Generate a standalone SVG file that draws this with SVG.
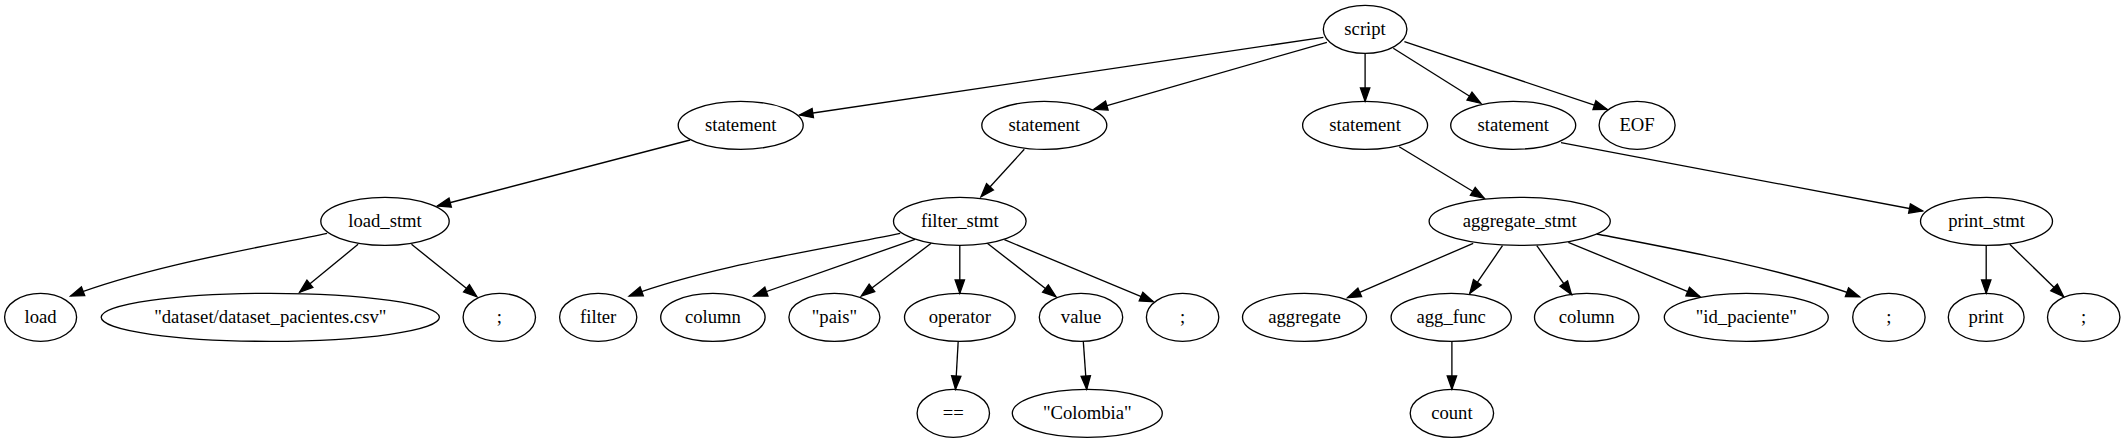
<svg xmlns="http://www.w3.org/2000/svg" width="2125" height="443" viewBox="0 0 2125 443">
<defs>
<style>
.n ellipse{fill:none;stroke:#000;stroke-width:1.33}
.n text{font-family:"Liberation Serif","DejaVu Serif",serif;font-size:18.67px;text-anchor:middle;fill:#000}
#edges path{fill:none;stroke:#000;stroke-width:1.33;marker-end:url(#arr)}
</style>
<marker id="arr" markerUnits="userSpaceOnUse" markerWidth="16" markerHeight="12" viewBox="-1 -6 16 12" refX="13.33" refY="0" orient="auto" overflow="visible">
<path d="M0,-4.67 L13.33,0 L0,4.67 Z" fill="#000" stroke="#000" stroke-width="1.33"/>
</marker>
</defs>
<rect width="2125" height="443" fill="#fff"/>
<g id="edges">
<path d="M1323.4,37.3 L799.6,115"/>
<path d="M1326.9,42.3 L1094,109.3"/>
<path d="M1365.1,53.3 L1365.1,101.33"/>
<path d="M1393.3,48.3 L1480.8,103.3"/>
<path d="M1404.4,41.7 L1607.1,109.3"/>
<path d="M690.1,140 L437.3,206"/>
<path d="M1024.3,149.3 L981,196.7"/>
<path d="M1399.2,146.7 L1484.2,198.3"/>
<path d="M1561,142.7 L1922.6,211"/>
<path d="M327.1,233.3 C252,249 150,266 70.6,296"/>
<path d="M358.1,244.3 L299.6,292.3"/>
<path d="M411.5,244.3 L476.9,296.7"/>
<path d="M900.2,233.3 C825,249 710,266 629.2,296"/>
<path d="M915,239.3 L753.8,296"/>
<path d="M931.2,243.3 L861.3,296"/>
<path d="M959.8,245.33 L959.8,293.33"/>
<path d="M987.3,243.3 L1056,296.7"/>
<path d="M1004.4,239.7 L1153.3,301.7"/>
<path d="M958.2,341.33 L955.5,389.33"/>
<path d="M1083.3,341.33 L1086.7,389.33"/>
<path d="M1473.2,243.3 L1347.5,297.7"/>
<path d="M1502.5,245.7 L1469.8,293.3"/>
<path d="M1536.8,245.7 L1571.5,294.5"/>
<path d="M1568.3,242.3 L1700,296.7"/>
<path d="M1596.7,234 C1670,248 1780,268 1859.5,296.7"/>
<path d="M1451.9,341.33 L1451.9,389.33"/>
<path d="M1986.2,245.33 L1986.2,293.33"/>
<path d="M2009.7,244.3 L2063.6,296.7"/>
</g>
<g id="script" class="n"><ellipse cx="1365.1" cy="29.33" rx="41.8" ry="24"/><text x="1365.1" y="34.93">script</text></g>
<g id="statement1" class="n"><ellipse cx="740.7" cy="125.33" rx="62.5" ry="24"/><text x="740.7" y="130.93">statement</text></g>
<g id="statement2" class="n"><ellipse cx="1044.3" cy="125.33" rx="62.5" ry="24"/><text x="1044.3" y="130.93">statement</text></g>
<g id="statement3" class="n"><ellipse cx="1365.1" cy="125.33" rx="62.5" ry="24"/><text x="1365.1" y="130.93">statement</text></g>
<g id="statement4" class="n"><ellipse cx="1513.2" cy="125.33" rx="62.5" ry="24"/><text x="1513.2" y="130.93">statement</text></g>
<g id="eof" class="n"><ellipse cx="1637.1" cy="125.33" rx="38" ry="24"/><text x="1637.1" y="130.93">EOF</text></g>
<g id="load_stmt" class="n"><ellipse cx="385" cy="221.33" rx="64.2" ry="24"/><text x="385" y="226.93">load_stmt</text></g>
<g id="filter_stmt" class="n"><ellipse cx="959.8" cy="221.33" rx="66.3" ry="24"/><text x="959.8" y="226.93">filter_stmt</text></g>
<g id="aggregate_stmt" class="n"><ellipse cx="1519.7" cy="221.33" rx="90.6" ry="24"/><text x="1519.7" y="226.93">aggregate_stmt</text></g>
<g id="print_stmt" class="n"><ellipse cx="1986.5" cy="221.33" rx="66" ry="24"/><text x="1986.5" y="226.93">print_stmt</text></g>
<g id="load" class="n"><ellipse cx="40.6" cy="317.33" rx="36" ry="24"/><text x="40.6" y="322.93">load</text></g>
<g id="dataset" class="n"><ellipse cx="270.3" cy="317.33" rx="169.1" ry="24"/><text x="270.3" y="322.93">"dataset/dataset_pacientes.csv"</text></g>
<g id="semi1" class="n"><ellipse cx="499.3" cy="317.33" rx="36.2" ry="24"/><text x="499.3" y="322.93">;</text></g>
<g id="filter" class="n"><ellipse cx="598.2" cy="317.33" rx="38.6" ry="24"/><text x="598.2" y="322.93">filter</text></g>
<g id="column1" class="n"><ellipse cx="712.9" cy="317.33" rx="52.2" ry="24"/><text x="712.9" y="322.93">column</text></g>
<g id="pais" class="n"><ellipse cx="834.4" cy="317.33" rx="45.5" ry="24"/><text x="834.4" y="322.93">"pais"</text></g>
<g id="operator" class="n"><ellipse cx="959.8" cy="317.33" rx="55.3" ry="24"/><text x="959.8" y="322.93">operator</text></g>
<g id="value" class="n"><ellipse cx="1081" cy="317.33" rx="41.7" ry="24"/><text x="1081" y="322.93">value</text></g>
<g id="semi2" class="n"><ellipse cx="1182.6" cy="317.33" rx="36.2" ry="24"/><text x="1182.6" y="322.93">;</text></g>
<g id="aggregate" class="n"><ellipse cx="1304.5" cy="317.33" rx="62" ry="24"/><text x="1304.5" y="322.93">aggregate</text></g>
<g id="agg_func" class="n"><ellipse cx="1451.2" cy="317.33" rx="60.1" ry="24"/><text x="1451.2" y="322.93">agg_func</text></g>
<g id="column2" class="n"><ellipse cx="1586.7" cy="317.33" rx="52.2" ry="24"/><text x="1586.7" y="322.93">column</text></g>
<g id="id_paciente" class="n"><ellipse cx="1746.3" cy="317.33" rx="82" ry="24"/><text x="1746.3" y="322.93">"id_paciente"</text></g>
<g id="semi3" class="n"><ellipse cx="1888.9" cy="317.33" rx="36.2" ry="24"/><text x="1888.9" y="322.93">;</text></g>
<g id="print" class="n"><ellipse cx="1986.2" cy="317.33" rx="37.9" ry="24"/><text x="1986.2" y="322.93">print</text></g>
<g id="semi4" class="n"><ellipse cx="2083.7" cy="317.33" rx="36.2" ry="24"/><text x="2083.7" y="322.93">;</text></g>
<g id="eq" class="n"><ellipse cx="953.3" cy="413.33" rx="36.2" ry="24"/><text x="953.3" y="418.93">==</text></g>
<g id="colombia" class="n"><ellipse cx="1087.3" cy="413.33" rx="75" ry="24"/><text x="1087.3" y="418.93">"Colombia"</text></g>
<g id="count" class="n"><ellipse cx="1451.9" cy="413.33" rx="41.7" ry="24"/><text x="1451.9" y="418.93">count</text></g>
</svg>
